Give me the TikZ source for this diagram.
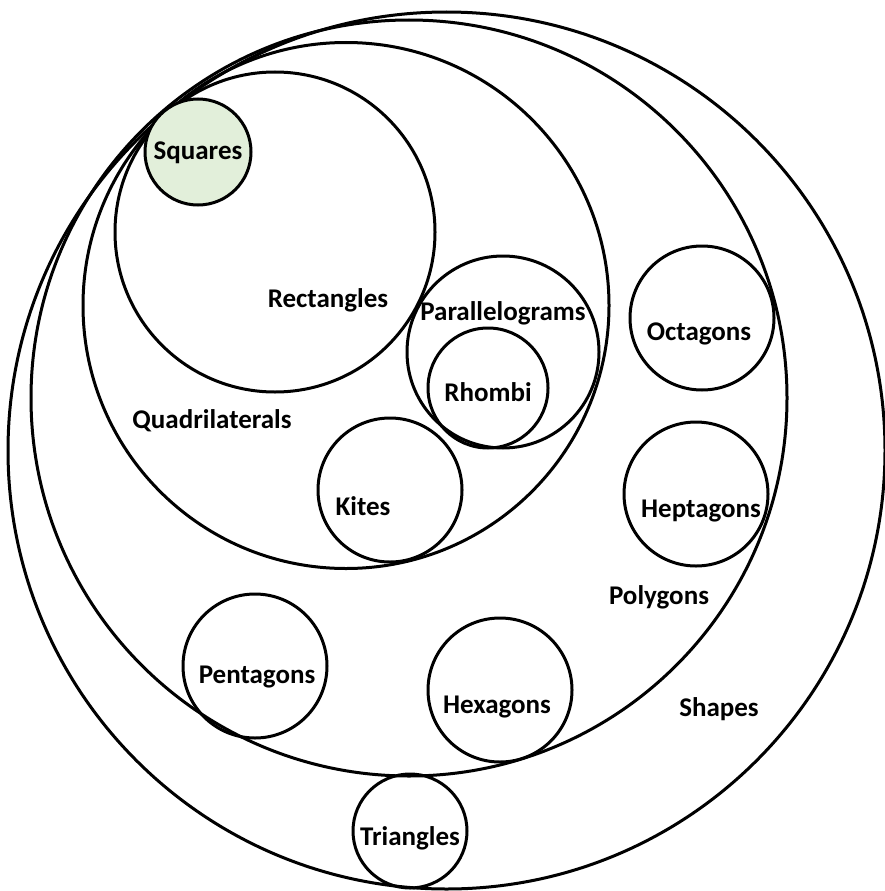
\documentclass[tikz,border=0pt]{standalone}
\usepackage{fontspec}
\setmainfont{Carlito}
\definecolor{sqfill}{HTML}{E2EFDA}
\begin{document}
\begin{tikzpicture}[x=1pt,y=-1pt,
  ring/.style={circle,draw=black,line width=3pt,inner sep=0pt},
  txt/.style={font=\fontsize{27}{31}\selectfont\bfseries,inner sep=0pt}]
\useasboundingbox (0,0) rectangle (884,891);
% big rings
\node[ring,minimum size=877pt] (shapes) at (446.5,450.5) {};
\node[ring,minimum size=756pt] (polygons) at (409,398) {};
\node[ring,minimum size=526pt] (quads) at (346,305.5) {};
\node[ring,minimum size=320pt] (rects) at (275,232) {};
\node[ring,minimum size=192pt] (paras) at (503,352) {};
\node[ring,minimum size=120pt] (rhombi) at (488,388) {};
\node[ring,minimum size=144pt] (kites) at (390,490) {};
\node[ring,minimum size=144pt] (octagons) at (702,318) {};
\node[ring,minimum size=144pt] (heptagons) at (696,494) {};
\node[ring,minimum size=144pt] (hexagons) at (500,690) {};
\node[ring,minimum size=144pt] (pentagons) at (255,666) {};
\node[ring,minimum size=114pt] (triangles) at (410,831) {};
\node[ring,fill=sqfill,minimum size=106pt] (squares) at (198,152) {};
% labels
\node[txt] (squaresL) at (198,153) {Squares};
\node[txt] (rectsL) at (328,300) {Rectangles};
\node[txt] (quadsL) at (212,421) {Quadrilaterals};
\node[txt] (parasL) at (503,313) {Parallelograms};
\node[txt] (rhombiL) at (488,392) {Rhombi};
\node[txt] (kitesL) at (363,506) {Kites};
\node[txt] (octagonsL) at (699,334) {Octagons};
\node[txt] (heptagonsL) at (701,511) {Heptagons};
\node[txt] (polygonsL) at (659,597) {Polygons};
\node[txt] (hexagonsL) at (497,707) {Hexagons};
\node[txt] (shapesL) at (719,709) {Shapes};
\node[txt] (pentagonsL) at (257,677) {Pentagons};
\node[txt] (trianglesL) at (410,838) {Triangles};
\end{tikzpicture}
\end{document}
